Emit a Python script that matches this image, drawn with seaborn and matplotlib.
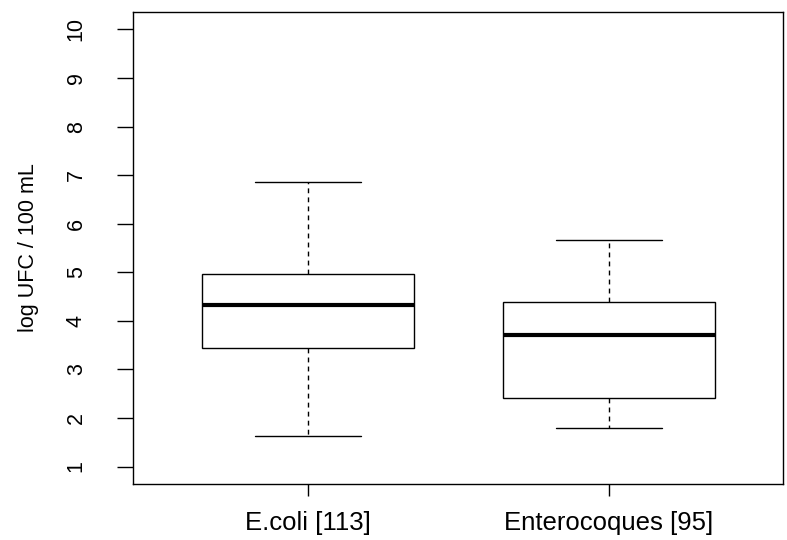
import pandas as pd
import matplotlib
matplotlib.use("Agg")
import matplotlib.pyplot as plt
import seaborn as sns

# five-number summaries (min, Q1, median, Q3, max)
groups = ["E.coli [113]", "Enterocoques [95]"]
ecoli_vals = [1.62, 3.45, 4.33, 4.96, 6.85]
entero_vals = [1.80, 2.41, 3.71, 4.39, 5.66]
y_ticks = [1, 2, 3, 4, 5, 6, 7, 8, 9, 10]
y_label = "log UFC / 100 mL"

df = pd.DataFrame({
    "group": [groups[0]] * len(ecoli_vals) + [groups[1]] * len(entero_vals),
    "value": ecoli_vals + entero_vals,
})

sns.set_theme(style="white")
plt.rcParams["font.family"] = ["Liberation Sans", "DejaVu Sans"]
plt.rcParams["text.color"] = "black"
plt.rcParams["axes.labelcolor"] = "black"
plt.rcParams["xtick.color"] = "black"
plt.rcParams["ytick.color"] = "black"

fig = plt.figure(figsize=(7.87, 5.40), dpi=100)
ax = fig.add_axes([0.1694, 0.1037, 0.8255, 0.8741])

sns.boxplot(
    data=df, x="group", y="value", ax=ax,
    whis=(0, 100), width=0.705, color="white", linecolor="black",
    linewidth=1.0, saturation=1,
    medianprops={"linewidth": 3.0},
    whiskerprops={"linestyle": (0, (3.5, 3))},
)

ax.set_ylim(0.64, 10.36)
ax.set_xlim(-0.58, 1.58)
ax.set_yticks(y_ticks)
ax.set_yticklabels([str(t) for t in y_ticks], rotation=90, va="center")
ax.set_xlabel("")
ax.set_ylabel(y_label, fontsize=15.5)
ax.yaxis.set_label_coords(-0.145, 0.5)

for s in ax.spines.values():
    s.set_visible(True)
    s.set_color("black")
    s.set_linewidth(1.0)

ax.tick_params(axis="x", direction="out", length=8.6, width=1.0, color="black",
               labelsize=18.5, pad=11, bottom=True)
ax.tick_params(axis="y", direction="out", length=11.5, width=1.0, color="black",
               labelsize=15.5, pad=22, left=True)

fig.savefig("out.png", dpi=100, facecolor="white")
